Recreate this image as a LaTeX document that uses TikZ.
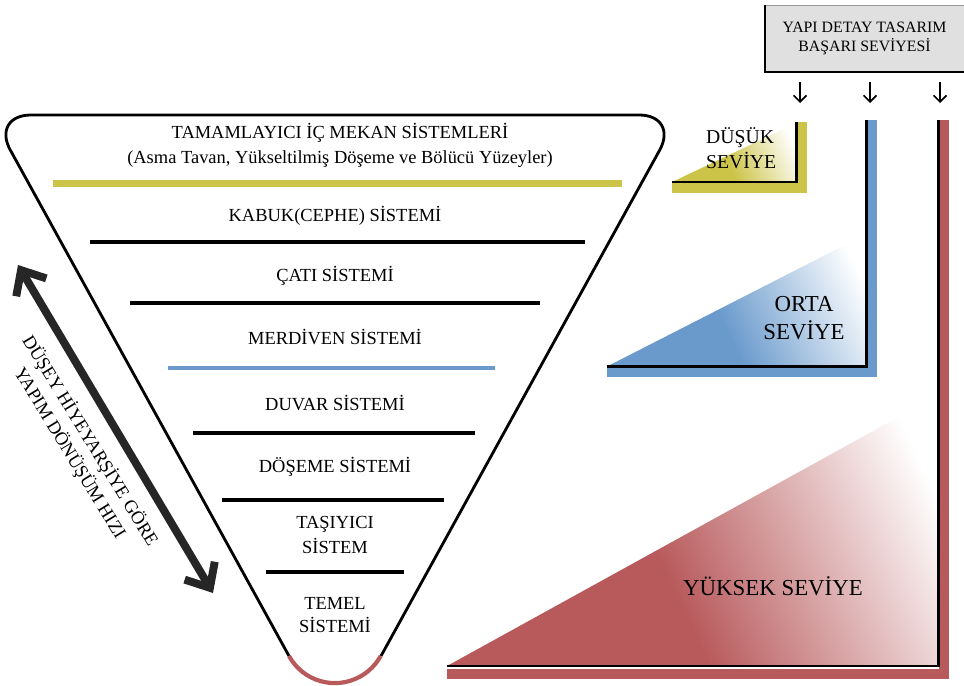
\documentclass[tikz,border=0pt]{standalone}
\usepackage{fontspec}
\setmainfont{Liberation Serif}
\usetikzlibrary{arrows.meta}
\definecolor{lowylw}{RGB}{204,196,72}
\definecolor{midblue}{RGB}{106,154,204}
\definecolor{highred}{RGB}{184,90,92}
\definecolor{boxgray}{RGB}{224,224,224}
\pgfdeclarehorizontalshading{lowfade}{100bp}{color(0bp)=(lowylw); color(45bp)=(lowylw); color(78bp)=(white); color(100bp)=(white)}
\pgfdeclarehorizontalshading{midfade}{100bp}{color(0bp)=(midblue); color(45bp)=(midblue); color(78bp)=(white); color(100bp)=(white)}
\pgfdeclarehorizontalshading{highfade}{100bp}{color(0bp)=(highred); color(45bp)=(highred); color(78bp)=(white); color(100bp)=(white)}

\begin{document}
\begin{tikzpicture}[x=0.02cm, y=-0.02cm, >=stealth,
    layer/.style={font=\fontsize{10.5}{13}\selectfont, anchor=base},
    sep/.style={line width=2.2pt},
    lvl/.style={font=\fontsize{13}{15.5}\selectfont},
    band/.style={line width=5.6pt},
    edge/.style={line width=1.7pt},
    down/.style={line width=1pt, -{Straight Barb[length=1.3mm, width=2.6mm]}}]
    \useasboundingbox (0,0) rectangle (964,686);

    % inverted pyramid
    \draw [line width=1.6pt, rounded corners=0.8cm] (289,656) -- (-9,115) -- (679,115) -- (381,656);
    \draw [line width=2.4pt, highred] (289,656) arc[start angle=151.2, end angle=28.8, radius=52.3];

    \draw [sep, lowylw, line width=4pt] (53,183.5) -- (622,183.5);
    \draw [sep] (90,242) -- (585,242);
    \draw [sep] (130,303) -- (540,303);
    \draw [sep, midblue] (168,368) -- (495,368);
    \draw [sep] (193,433) -- (475,433);
    \draw [sep] (222,500) -- (444,500);
    \draw [sep] (266,572) -- (404,572);

    \node [layer] (tamam) at (340,139) {TAMAMLAYICI İÇ MEKAN SİSTEMLERİ};
    \node [layer] (asma) at (340,164) {(Asma Tavan, Yükseltilmiş Döşeme ve Bölücü Yüzeyler)};
    \node [layer] (kabuk) at (335,221) {KABUK(CEPHE) SİSTEMİ};
    \node [layer] (cati) at (335,281) {ÇATI SİSTEMİ};
    \node [layer] (merdiven) at (335,344) {MERDİVEN SİSTEMİ};
    \node [layer] (duvar) at (335,410) {DUVAR SİSTEMİ};
    \node [layer] (doseme) at (335,472) {DÖŞEME SİSTEMİ};
    \node [layer] (tasiyici) at (335,528) {TAŞIYICI};
    \node [layer] (tsistem) at (335,553) {SİSTEM};
    \node [layer] (temel) at (335,609) {TEMEL};
    \node [layer] (tmsistem) at (335,632) {SİSTEMİ};

    % rate of change
    \coordinate (hiztop) at (18,265);
    \coordinate (hizbot) at (213,593);
    \draw [line width=4.5pt, black!85, {Straight Barb[length=4mm, width=7mm]}-{Straight Barb[length=4mm, width=7mm]}] (hiztop) -- (hizbot);
    \node [font=\fontsize{10.5}{13.5}\selectfont, rotate=-58.5, align=center] (hiz) at (80,447) {DÜŞEY HİYEYARŞİYE GÖRE\\YAPIM DÖNÜŞÜM HIZI};

    % success levels
    \node [fill=boxgray, draw=black!40, minimum width=3.98cm, minimum height=1.34cm, align=center,
           font=\fontsize{9}{11.3}\selectfont] (basari) at (864.5,38.5) {YAPI DETAY TASARIM\\BAŞARI SEVİYESİ};
    \draw [line width=1.2pt] (basari.north west) -- (basari.south west) -- (basari.south east);

    \coordinate (lowtop) at (800,120);
    \coordinate (midtop) at (870,120);
    \coordinate (hightop) at (940,120);
    \foreach \lv in {lowtop, midtop, hightop}
        \draw [down] ([yshift=-0.2cm]basari.south -| \lv) -- ([yshift=0.34cm]\lv);

    \shade [shading=lowfade, shading angle=25] (672,182) -- (796.5,182) -- (796.5,123) -- cycle;
    \draw [band, lowylw] (802,122) -- (802,188) -- (672,188);
    \draw [edge] (796.5,122) -- (796.5,182) -- (672,182);
    \node [font=\fontsize{11.2}{14}\selectfont, align=left, anchor=west] (dusuk) at (700,148) {DÜŞÜK\\SEVİYE};

    \shade [shading=midfade, shading angle=25] (607,366.5) -- (866.5,366.5) -- (866.5,234) -- cycle;
    \draw [band, midblue] (872.5,120) -- (872.5,372.5) -- (607,372.5);
    \draw [edge] (866.5,120) -- (866.5,366.5) -- (607,366.5);
    \node [lvl, align=center] (orta) at (804,318) {ORTA\\SEVİYE};

    \shade [shading=highfade, shading angle=25] (447,666) -- (938.5,666) -- (938.5,395) -- cycle;
    \draw [band, highred] (944,120) -- (944,674) -- (447,674);
    \draw [edge] (938.5,120) -- (938.5,666) -- (447,666);
    \node [lvl] (yuksek) at (773,586) {YÜKSEK SEVİYE};
\end{tikzpicture}
\end{document}
